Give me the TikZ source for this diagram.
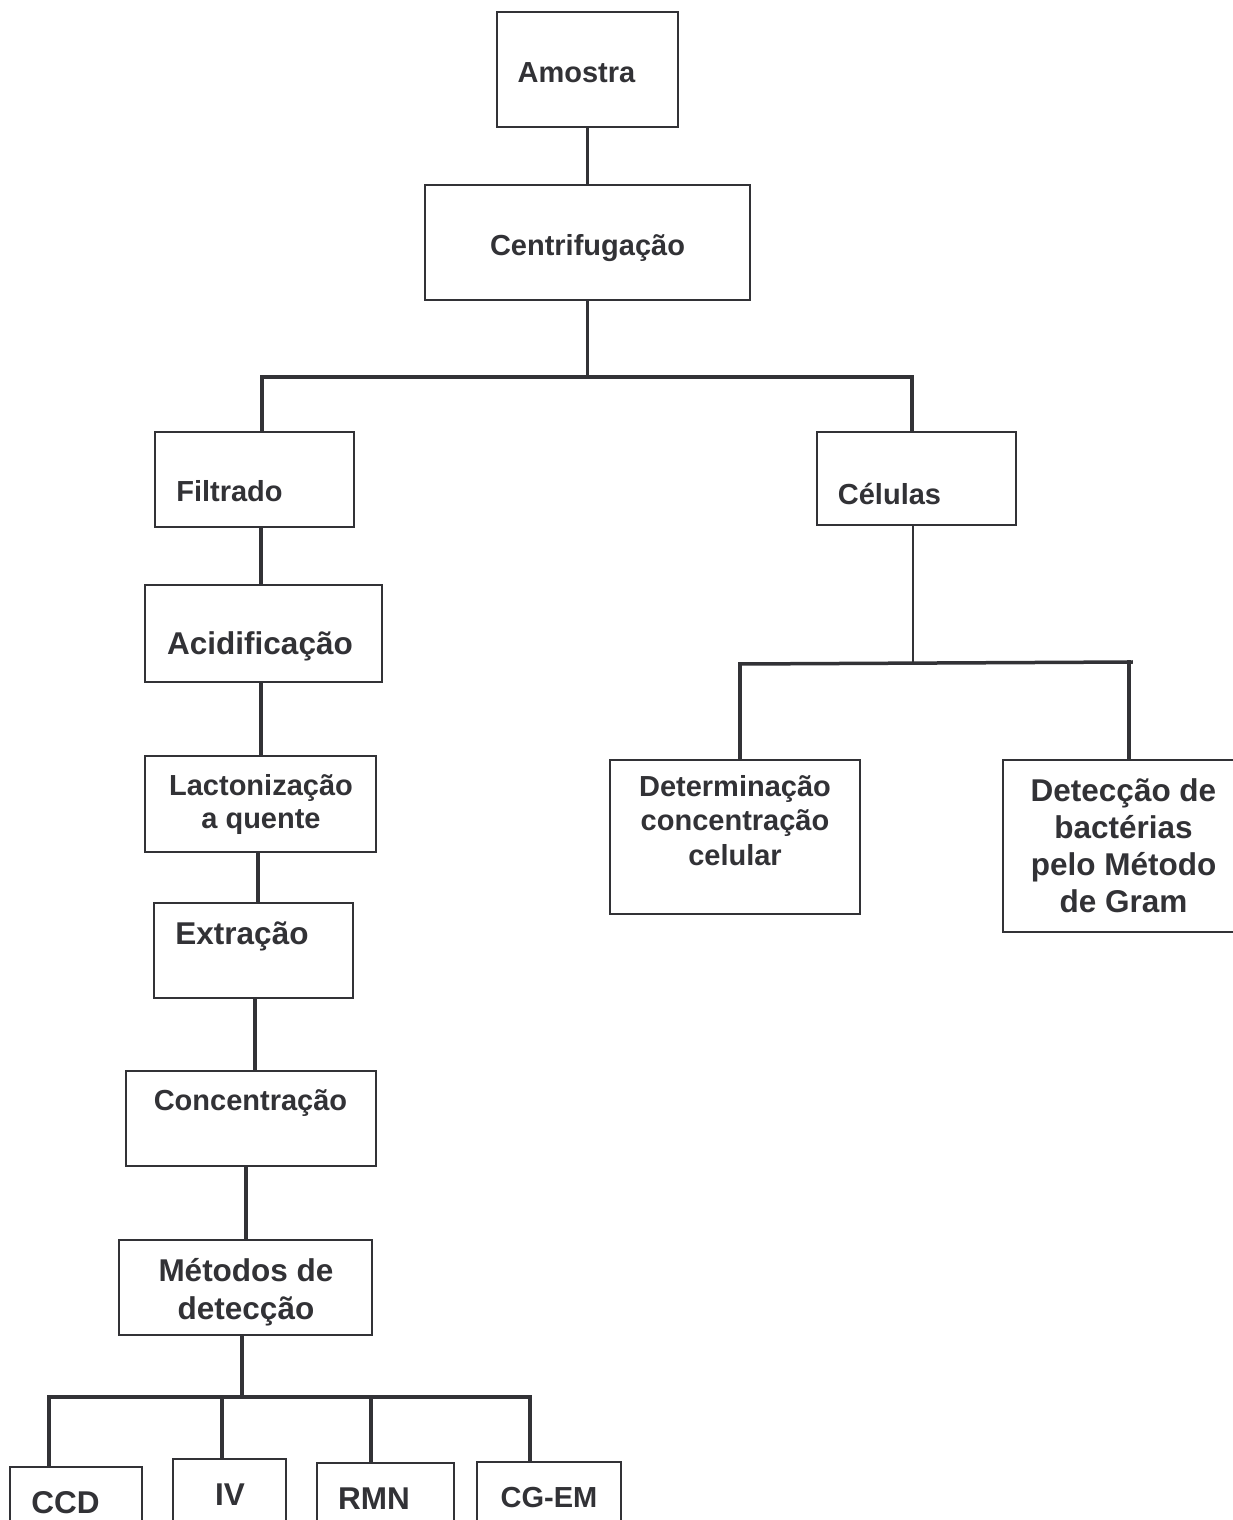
\documentclass[tikz,border=0pt]{standalone}
\usepackage{fontspec}
\setmainfont{Liberation Sans}
\definecolor{ink}{RGB}{50,50,54}
\begin{document}
\begin{tikzpicture}[x=1pt,y=-1pt,
  box/.style={draw=ink, line width=1.5pt, rectangle, inner sep=0pt, fill=white},
  conn/.style={draw=ink, line width=3.5pt, line cap=rect},
  thinconn/.style={draw=ink, line width=2pt},
  lbl/.style={text=ink, font=\bfseries\fontsize{29}{34}\selectfont, inner sep=0pt, anchor=base, align=center},
  lblb/.style={lbl, font=\bfseries\fontsize{31.5}{37}\selectfont},
]
\clip (0,0) rectangle (1233,1520);
\fill[white] (0,0) rectangle (1233,1520);

% boxes
\node[box, minimum width=181pt, minimum height=115pt] (amostra) at (587.5,69.5) {};
\node[box, minimum width=325pt, minimum height=115pt] (centrif) at (587.5,242.5) {};
\node[box, minimum width=199pt, minimum height=95pt] (filtrado) at (254.5,479.5) {};
\node[box, minimum width=237pt, minimum height=97pt] (acid) at (263.5,633.5) {};
\node[box, minimum width=231pt, minimum height=96pt] (lacton) at (260.5,804) {};
\node[box, minimum width=199pt, minimum height=95pt] (extracao) at (253.5,950.5) {};
\node[box, minimum width=250pt, minimum height=95pt] (concent) at (251,1118.5) {};
\node[box, minimum width=253pt, minimum height=95pt] (metodos) at (245.5,1287.5) {};
\node[box, minimum width=199pt, minimum height=93pt] (celulas) at (916.5,478.5) {};
\node[box, minimum width=250pt, minimum height=154pt] (det) at (735,837) {};
\node[box, minimum width=237pt, minimum height=172pt] (gram) at (1121.5,846) {};
\node[box, minimum width=132pt, minimum height=73pt] (ccd) at (76,1503.5) {};
\node[box, minimum width=113pt, minimum height=81pt] (iv) at (229.5,1499.5) {};
\node[box, minimum width=137pt, minimum height=77pt] (rmn) at (385.5,1501.5) {};
\node[box, minimum width=144pt, minimum height=78pt] (cgem) at (549,1501) {};

% labels (multi-line labels are anchored at the baseline of their last line)
\node[lbl] (amostra-t) at (576.5,82.4) {Amostra};
\node[lbl] (centrif-t) at (587.5,255) {Centrifugação};
\node[lbl] (filtrado-t) at (229.5,501) {Filtrado};
\node[lblb] (acid-t) at (260,654) {Acidificação};
\node[lbl, font=\bfseries\fontsize{29}{33}\selectfont] (lacton-t) at (261,828) {Lactonização\\a quente};
\node[lblb] (extracao-t) at (242,944) {Extração};
\node[lbl] (concent-t) at (250.5,1110) {Concentração};
\node[lblb, font=\bfseries\fontsize{31.5}{38}\selectfont] (metodos-t) at (246,1319) {Métodos de\\detecção};
\node[lbl] (celulas-t) at (889.5,504) {Células};
\node[lbl, font=\bfseries\fontsize{29}{34.5}\selectfont] (det-t) at (735,865) {Determinação\\concentração\\celular};
\node[lblb, font=\bfseries\fontsize{31.5}{36.7}\selectfont] (gram-t) at (1123.5,912) {Detecção de\\bactérias\\pelo Método\\de Gram};
\node[lblb] (ccd-t) at (65.5,1513) {CCD};
\node[lblb] (iv-t) at (230,1505) {IV};
\node[lblb] (rmn-t) at (374,1509) {RMN};
\node[lbl] (cgem-t) at (549,1507) {CG-EM};

% junction coordinates
\coordinate (jtop) at (587.5,377);
\coordinate (jl) at (262,377);
\coordinate (jr) at (912,377);
\coordinate (xa) at (261,0);
\coordinate (xb) at (258,0);
\coordinate (xc) at (255,0);
\coordinate (xd) at (246,0);
\coordinate (bj) at (242,1397);
\coordinate (bl) at (49,1397);
\coordinate (br) at (530,1397);
\coordinate (b2) at (222,1397);
\coordinate (b3) at (371,1397);
\coordinate (rj) at (913,663);
\coordinate (rl) at (740,664);
\coordinate (rr) at (1131,662);
\coordinate (rr2) at (1129,662);

% connectors
\draw[conn] (amostra.south) -- (centrif.north);
\draw[conn] (centrif.south) -- (jtop);
\draw[conn] (jl) -- (jr);
\draw[conn] (jl) -- (filtrado.north -| jl);
\draw[conn] (jr) -- (celulas.north -| jr);
\draw[conn] (filtrado.south -| xa) -- (acid.north -| xa);
\draw[conn] (acid.south -| xa) -- (lacton.north -| xa);
\draw[conn] (lacton.south -| xb) -- (extracao.north -| xb);
\draw[conn] (extracao.south -| xc) -- (concent.north -| xc);
\draw[conn] (concent.south -| xd) -- (metodos.north -| xd);
\draw[conn] (metodos.south -| bj) -- (bj);
\draw[conn] (bl) -- (br);
\draw[conn] (bl) -- (ccd.north -| bl);
\draw[conn] (b2) -- (iv.north -| b2);
\draw[conn] (b3) -- (rmn.north -| b3);
\draw[conn] (br) -- (cgem.north -| br);
\draw[thinconn] (celulas.south -| rj) -- (rj);
\draw[conn] (rl) -- (rr);
\draw[conn] (rl) -- (det.north -| rl);
\draw[conn] (rr2) -- (gram.north -| rr2);
\end{tikzpicture}
\end{document}
